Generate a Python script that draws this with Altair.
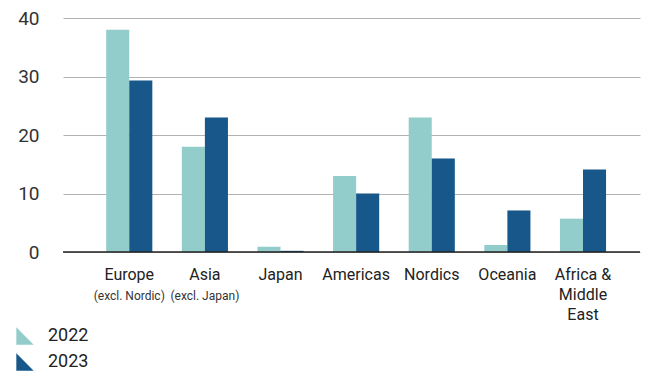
import altair as alt
import pandas as pd

categories = ["Europe", "Asia", "Japan", "Americas", "Nordics", "Oceania", "Africa & Middle East"]
sub_labels = ["(excl. Nordic)", "(excl. Japan)", "", "", "", "", ""]
years = ["2022", "2023"]
values_2022 = [38.0, 18.0, 0.9, 13.0, 23.0, 1.2, 5.7]
values_2023 = [29.3, 23.0, 0.2, 10.0, 16.0, 7.1, 14.1]
y_ticks = [0, 10, 20, 30, 40]
colors = ["#93cdcb", "#17578a"]

rows = []
for c, a, b in zip(categories, values_2022, values_2023):
    rows.append({"region": c, "year": "2022", "value": a})
    rows.append({"region": c, "year": "2023", "value": b})
df = pd.DataFrame(rows)
sub_df = pd.DataFrame({"region": categories, "sub": sub_labels})

FONT = "Roboto"
W, H = 577, 234

xscale = alt.Scale(domain=categories, paddingInner=0.39, paddingOuter=0.51, align=0.56)

bars = alt.Chart(df).mark_bar(opacity=1).encode(
    x=alt.X("region:N", sort=categories, scale=xscale, title=None,
            axis=alt.Axis(labelAngle=0, ticks=False, domain=False, grid=False,
                          labelFontSize=16, labelColor="#222", labelFont=FONT,
                          labelPadding=14, labelLineHeight=20, labelBaseline="top",
                          labelExpr="datum.value == 'Africa & Middle East' ? ['Africa &', 'Middle', 'East'] : datum.value")),
    xOffset=alt.XOffset("year:N", sort=years),
    y=alt.Y("value:Q", scale=alt.Scale(domain=[0, 40], nice=False), title=None,
            axis=alt.Axis(values=y_ticks, ticks=False, domain=False, grid=True,
                          gridColor="#b3b3b3", gridWidth=1.2,
                          labelFontSize=19, labelColor="#333", labelFont=FONT,
                          labelPadding=24)),
    color=alt.Color("year:N", scale=alt.Scale(domain=years, range=colors), title=None,
                    legend=alt.Legend(orient="none", legendX=-47, legendY=309, direction="vertical",
                                      symbolType="M-1,-1L-1,1L1,1Z", symbolSize=300,
                                      symbolStrokeWidth=0, labelFontSize=18, labelFont=FONT,
                                      labelColor="#222", labelOffset=14, rowPadding=8)),
)

zero = alt.Chart(pd.DataFrame({"y": [0]})).mark_rule(color="#222", strokeWidth=1.5).encode(y="y:Q")

subs = alt.Chart(sub_df).mark_text(fontSize=12, font=FONT, color="#333", baseline="top").encode(
    x=alt.X("region:N", sort=categories, scale=xscale),
    y=alt.value(H + 39),
    text="sub:N",
)

chart = alt.layer(bars, zero, subs).properties(
    width=W, height=H,
    autosize=alt.AutoSizeParams(type="none"),
    padding={"left": 55, "top": 10, "right": 3, "bottom": 122},
).configure_view(stroke=None)

chart.save("out.html", embed_options={"renderer": "svg", "actions": False})
